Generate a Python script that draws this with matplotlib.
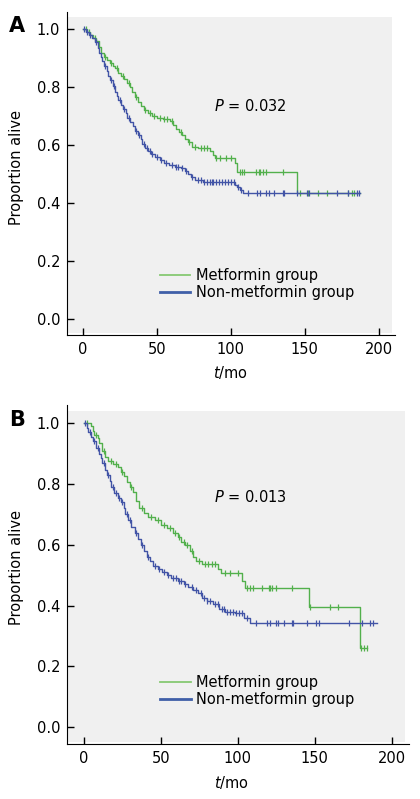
import numpy as np
import matplotlib.pyplot as plt

plt.rcParams['font.family'] = ['DejaVu Sans']

# ---- Panel A ----
a_met_t = [0, 3, 5, 7, 9, 11, 12, 14, 16, 18, 20, 22, 24, 26, 28, 30, 32, 33, 35, 37, 39, 41,
           44, 47, 50, 54, 59, 61, 63, 65, 67, 69, 71, 74, 78, 86, 88, 89, 103, 104, 145]
a_met_s = [1.0, 0.99, 0.98, 0.97, 0.96, 0.94, 0.92, 0.905, 0.895, 0.885, 0.875, 0.865, 0.85,
           0.84, 0.83, 0.815, 0.80, 0.785, 0.765, 0.75, 0.735, 0.72, 0.71, 0.70, 0.695, 0.69,
           0.685, 0.67, 0.655, 0.645, 0.635, 0.62, 0.61, 0.595, 0.59, 0.58, 0.565, 0.555,
           0.54, 0.507, 0.434]
a_met_end = 187
a_met_cens = [2, 4, 8, 15, 19, 23, 27, 31, 36, 42, 45, 48, 52, 55, 57, 60, 66, 72, 76, 80, 82,
              84, 90, 93, 97, 100, 106, 107.4, 109, 117, 119, 120, 121.6, 123.6, 135, 147,
              152, 159, 165, 179, 182, 183]

a_non_t = [0, 2, 4, 6, 8, 10, 11, 12, 13, 14, 16, 17, 18, 20, 22, 23, 24, 26, 27, 29, 30, 32,
           34, 35, 37, 39, 40, 42, 44, 46, 49, 52, 55, 58, 62, 66, 69, 71, 73, 76, 81, 103,
           104, 106, 108]
a_non_s = [1.0, 0.99, 0.98, 0.97, 0.955, 0.935, 0.92, 0.905, 0.89, 0.875, 0.855, 0.84, 0.825,
           0.805, 0.785, 0.77, 0.755, 0.74, 0.725, 0.71, 0.695, 0.68, 0.665, 0.65, 0.635,
           0.62, 0.605, 0.59, 0.58, 0.57, 0.56, 0.55, 0.54, 0.53, 0.525, 0.52, 0.51, 0.50,
           0.49, 0.48, 0.474, 0.462, 0.455, 0.445, 0.434]
a_non_end = 187
a_non_cens = [1, 3, 5, 9, 15, 19, 21, 25, 28, 31, 36, 38, 41, 43, 45, 47, 50, 53, 56, 60, 63,
              64, 67, 70, 74, 78, 80, 82, 84, 86, 87, 88, 90, 92, 94, 96, 98, 100, 102, 105,
              107, 111.6, 118, 120, 124, 125.7, 129, 135, 136, 145, 151.6, 153, 171.6, 179,
              185, 186.6]

# ---- Panel B ----
b_met_t = [0, 5, 6, 7, 9, 10, 12, 14, 16, 19, 22, 24, 26, 28, 30, 32, 34, 36, 39, 42, 46, 50,
           54, 58, 61, 63, 66, 69, 71, 73, 77, 87, 89, 103, 105, 146, 179]
b_met_s = [1.0, 0.99, 0.975, 0.96, 0.95, 0.935, 0.91, 0.89, 0.875, 0.865, 0.855, 0.84, 0.825,
           0.805, 0.79, 0.775, 0.745, 0.72, 0.705, 0.69, 0.68, 0.665, 0.655, 0.64, 0.625,
           0.61, 0.60, 0.58, 0.56, 0.545, 0.535, 0.52, 0.507, 0.48, 0.457, 0.395, 0.26]
b_met_end = 184
b_met_cens = [2, 8, 13, 18, 21, 25, 31, 38, 44, 48, 52, 56, 59, 62, 65, 67, 70, 75, 79, 81, 83,
              85, 92, 95, 100, 106, 108, 110, 116, 120, 121, 122.5, 125, 135.5, 147, 160,
              165, 180, 182, 184]

b_non_t = [0, 2, 3, 5, 6, 8, 10, 11, 12, 14, 15, 17, 18, 20, 22, 24, 26, 27, 29, 31, 33, 35,
           37, 39, 41, 43, 45, 48, 51, 54, 57, 61, 65, 68, 71, 74, 77, 80, 84, 88, 92, 98,
           104, 108]
b_non_s = [1.0, 0.985, 0.97, 0.955, 0.94, 0.92, 0.90, 0.885, 0.87, 0.845, 0.83, 0.81, 0.79,
           0.77, 0.755, 0.74, 0.72, 0.70, 0.68, 0.66, 0.64, 0.62, 0.60, 0.58, 0.56, 0.545,
           0.53, 0.52, 0.51, 0.50, 0.49, 0.48, 0.47, 0.46, 0.45, 0.44, 0.425, 0.415, 0.405,
           0.39, 0.38, 0.375, 0.36, 0.342]
b_non_end = 190
b_non_cens = [1, 4, 7, 9, 13, 16, 19, 21, 23, 25, 28, 30, 34, 38, 42, 46, 49, 52, 55, 58, 60,
              62, 63, 66, 70, 73, 76, 78, 80, 82, 85, 87, 90, 91, 93, 95, 97, 99, 101, 103,
              106, 111.7, 119, 121, 125, 126, 129.7, 135.5, 136, 145, 151, 152.8, 172, 180.5,
              186, 187.5]

green = '#52b04c'
blue = '#4254a6'
gray_bg = '#f0f0f0'


def km(ax, t, s, end, cens, color, label):
    t = np.array(t + [end], dtype=float)
    s = np.array(s + [s[-1]], dtype=float)
    ax.step(t, s, where='post', color=color, lw=1.0, label=label)
    cens = np.array(cens, dtype=float)
    cy = s[np.searchsorted(t, cens, side='right') - 1]
    ax.plot(cens, cy, ls='none', marker='|', ms=4.5, mew=0.9, color=color)


def setup(ax, pval, px, py, leg_x, leg_y, ylab_x, xlab_x, xlab_y):
    ax.set_xlim(-10.8, 211)
    ax.set_ylim(-0.056, 1.06)
    ax.set_facecolor('white')
    ax.add_patch(plt.Rectangle((-10.3, -0.049), 219, 1.09, color=gray_bg, zorder=0, lw=0))
    for sp in ['top', 'right']:
        ax.spines[sp].set_visible(False)
    ax.set_xticks([0, 50, 100, 150, 200])
    ax.set_yticks([0.0, 0.2, 0.4, 0.6, 0.8, 1.0])
    ax.set_yticklabels(['0.0', '0.2', '0.4', '0.6', '0.8', '1.0'])
    ax.tick_params(direction='in', length=5, width=1, labelsize=10.5, pad=5)
    ax.set_ylabel('Proportion alive', fontsize=10.5)
    ax.yaxis.set_label_coords(ylab_x, 0.52)
    ax.set_xlabel('$\\it{t}$/mo', fontsize=10.5)
    ax.xaxis.set_label_coords(xlab_x, xlab_y)
    ax.text(px, py, pval, fontsize=10.5, ha='center', va='center')
    leg = ax.legend(loc='upper left', bbox_to_anchor=(leg_x, leg_y), frameon=False,
                    fontsize=10.5, handlelength=2.1, handletextpad=0.4, labelspacing=0.15,
                    borderpad=0, borderaxespad=0)
    lines = leg.get_lines()
    lines[0].set_color('#86c972')
    lines[0].set_linewidth(1.3)
    lines[1].set_color('#3f5fa8')
    lines[1].set_linewidth(2.0)


fig = plt.figure(figsize=(4.2, 7.99), dpi=100)

axA = fig.add_axes([0.1595, 0.5807, 0.781, 0.4043])
km(axA, a_met_t, a_met_s, a_met_end, a_met_cens, green, 'Metformin group')
km(axA, a_non_t, a_non_s, a_non_end, a_non_cens, blue, 'Non-metformin group')
setup(axA, '$\\it{P}$ = 0.032', 113, 0.734, 0.283, 0.207, -0.131, 0.5, -0.09)
fig.text(0.022, 0.98, 'A', fontsize=15, weight='bold', va='top')

axB = fig.add_axes([0.1595, 0.0688, 0.814, 0.4243])
km(axB, b_met_t, b_met_s, b_met_end, b_met_cens, green, 'Metformin group')
km(axB, b_non_t, b_non_s, b_non_end, b_non_cens, blue, 'Non-metformin group')
setup(axB, '$\\it{P}$ = 0.013', 108, 0.757, 0.272, 0.204, -0.126, 0.48, -0.088)
fig.text(0.022, 0.487, 'B', fontsize=15, weight='bold', va='top')

fig.savefig('out.png', dpi=100)
